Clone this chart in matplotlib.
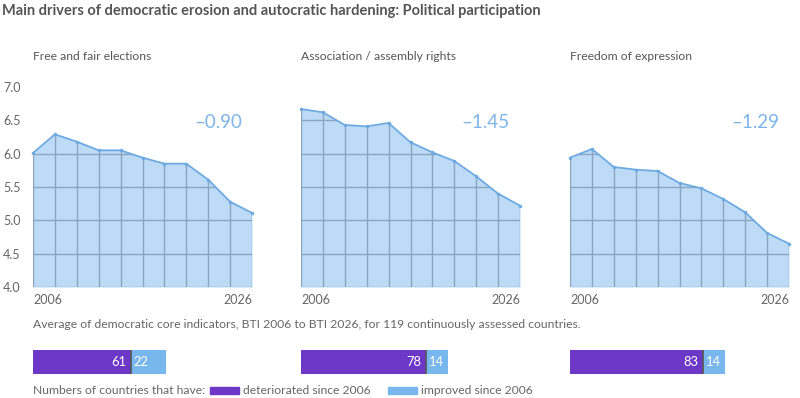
import matplotlib.pyplot as plt
import matplotlib.patches as mpatches
import numpy as np

plt.rcParams['font.family'] = ['Lato', 'DejaVu Sans']

W, H = 800, 398

anos = [2006, 2008, 2010, 2012, 2014, 2016, 2018, 2020, 2022, 2024, 2026]
paineis = ['Free and fair elections', 'Association / assembly rights', 'Freedom of expression']
eleicoes = [6.01, 6.29, 6.18, 6.05, 6.05, 5.94, 5.85, 5.85, 5.61, 5.28, 5.11]
associacao = [6.67, 6.62, 6.43, 6.41, 6.46, 6.17, 6.02, 5.89, 5.66, 5.40, 5.22]
expressao = [5.94, 6.07, 5.80, 5.76, 5.74, 5.56, 5.48, 5.32, 5.12, 4.81, 4.65]
variacoes = ['\u20130.90', '\u20131.45', '\u20131.29']
piorou = [61, 78, 83]
melhorou = [22, 14, 14]

series = [eleicoes, associacao, expressao]
esquerdas = [33, 301, 570]
LARG = 219

COR_FILL = '#bddbf6'
COR_LINHA = '#6eaae2'
COR_GRADE = '#8aa5c2'
COR_NUM = '#7db4ea'
COR_ROXO = '#6d37c8'
COR_AZUL = '#78b6ee'
COR_TXT = '#666666'


def fx(x):
    return x / W


def fy(y):
    return 1 - y / H


fig = plt.figure(figsize=(W / 100, H / 100), dpi=100)

fig.text(fx(2), fy(11), 'Main drivers of democratic erosion and autocratic hardening: Political participation',
         fontsize=10.5, fontweight='bold', color='#555555', va='center', ha='left')

for i, (nome, vals, esq) in enumerate(zip(paineis, series, esquerdas)):
    ax = fig.add_axes([fx(esq), fy(287), LARG / W, 200 / H])
    ax.set_xlim(anos[0], anos[-1])
    ax.set_ylim(4.0, 7.0)
    area = ax.fill_between(anos, 4.0, vals, color=COR_FILL, lw=0, zorder=1)
    clip = area.get_paths()[0]
    for yv in [4.0, 4.5, 5.0, 5.5, 6.0, 6.5]:
        ln = ax.axhline(yv, color=COR_GRADE, lw=1.0, zorder=2)
        ln.set_clip_path(clip, ax.transData)
    for xv in anos:
        ln = ax.axvline(xv, color=COR_GRADE, lw=1.0, zorder=2)
        ln.set_clip_path(clip, ax.transData)
    ax.plot(anos, vals, color=COR_LINHA, lw=1.3, zorder=3, clip_on=False)
    ax.plot(anos, vals, 'o', color=COR_LINHA, ms=1.5, zorder=4, clip_on=False)
    for s in ax.spines.values():
        s.set_visible(False)
    ax.set_xticks([])
    if i == 0:
        ax.set_yticks([4.0, 4.5, 5.0, 5.5, 6.0, 6.5, 7.0])
        ax.set_yticklabels(['4.0', '4.5', '5.0', '5.5', '6.0', '6.5', '7.0'])
        ax.tick_params(axis='y', length=0, pad=9, labelsize=9, labelcolor=COR_TXT)
    else:
        ax.set_yticks([])
    ax.patch.set_alpha(0)

    fig.text(fx(esq), fy(57), nome, fontsize=8.7, color='#555555', va='center', ha='left')
    fig.text(fx(esq), fy(300), str(anos[0]), fontsize=9, color=COR_TXT, va='center', ha='left')
    fig.text(fx(esq + LARG), fy(300), str(anos[-1]), fontsize=9, color=COR_TXT, va='center', ha='right')
    fig.text(fx(esq + LARG - 10), fy(122), variacoes[i], fontsize=13.5, color=COR_NUM, va='center', ha='right')

    # barras de paises
    bx = fig.add_axes([fx(esq), fy(374), LARG / W, 24 / H])
    escala = 1.6
    bx.set_xlim(0, LARG / escala)
    bx.set_ylim(0, 1)
    bx.barh(0.5, piorou[i], height=1, left=0, color=COR_ROXO, lw=0)
    bx.barh(0.5, melhorou[i], height=1, left=piorou[i], color=COR_AZUL, lw=0)
    bx.plot([piorou[i], piorou[i]], [0, 1], color='#555555', lw=1.2)
    bx.text(piorou[i] - 3, 0.5, str(piorou[i]), color='white', fontsize=9.3, va='center', ha='right')
    bx.text(piorou[i] + 2, 0.5, str(melhorou[i]), color='white', fontsize=9.3, va='center', ha='left')
    bx.axis('off')

fig.text(fx(33), fy(325), 'Average of democratic core indicators, BTI 2006 to BTI 2026, for 119 continuously assessed countries.',
         fontsize=8.7, color=COR_TXT, va='center', ha='left')

fig.text(fx(33), fy(391), 'Numbers of countries that have:', fontsize=8.7, color=COR_TXT, va='center', ha='left')
fig.patches.append(mpatches.Rectangle((fx(210), fy(394)), 29 / W, 7 / H, color=COR_ROXO,
                                      transform=fig.transFigure, figure=fig))
fig.text(fx(243), fy(391), 'deteriorated since 2006', fontsize=8.7, color=COR_TXT, va='center', ha='left')
fig.patches.append(mpatches.Rectangle((fx(388), fy(394)), 29 / W, 7 / H, color=COR_AZUL,
                                      transform=fig.transFigure, figure=fig))
fig.text(fx(421), fy(391), 'improved since 2006', fontsize=8.7, color=COR_TXT, va='center', ha='left')

fig.savefig('out.png', dpi=100)
